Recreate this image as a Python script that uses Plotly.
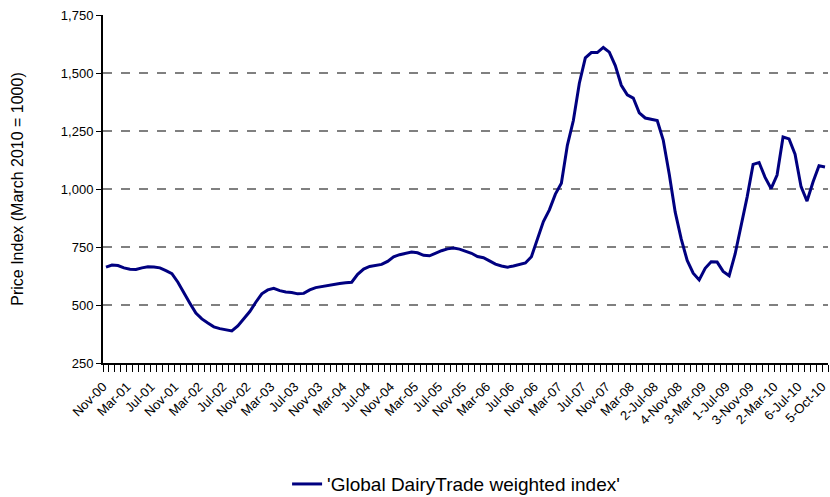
import plotly.graph_objects as go

# Global DairyTrade weighted index, monthly positions Nov-00 .. Oct-10
index_values = [
    663, 672, 670, 660, 654, 653, 660, 665, 664, 660,
    648, 635, 598, 556, 508, 465, 440, 422, 406, 398,
    394, 388, 410, 439, 472, 512, 548, 565, 572, 562,
    556, 554, 548, 550, 565, 575, 580, 584, 587, 593,
    596, 598, 632, 655, 666, 672, 675, 688, 708, 717,
    724, 728, 725, 714, 712, 724, 734, 742, 746, 741,
    732, 723, 709, 704, 690, 676, 668, 663, 668, 673,
    681, 708, 788, 860, 910, 978, 1025, 1188, 1295, 1456,
    1565, 1588, 1588, 1610, 1590, 1532, 1447, 1406, 1392, 1328,
    1306, 1300, 1295, 1211, 1065, 900, 785, 692, 637, 608,
    658, 686, 685, 645, 626, 720, 840, 965, 1106, 1114,
    1050, 1002, 1060, 1224, 1216, 1150, 1010, 948, 1030, 1100,
    1095,
]

tick_labels = [
    "Nov-00", "Mar-01", "Jul-01", "Nov-01", "Mar-02", "Jul-02", "Nov-02",
    "Mar-03", "Jul-03", "Nov-03", "Mar-04", "Jul-04", "Nov-04", "Mar-05",
    "Jul-05", "Nov-05", "Mar-06", "Jul-06", "Nov-06", "Mar-07", "Jul-07",
    "Nov-07", "Mar-08", "2-Jul-08", "4-Nov-08", "3-Mar-09", "1-Jul-09",
    "3-Nov-09", "2-Mar-10", "6-Jul-10", "5-Oct-10",
]
label_step = 4

y_ticks = [250, 500, 750, 1000, 1250, 1500, 1750]
y_tick_text = ["250", "500", "750", "1,000", "1,250", "1,500", "1,750"]

series_name = "'Global DairyTrade weighted index'"
y_title = "Price Index (March 2010 = 1000)"

x = list(range(len(index_values)))
tick_positions = [i * label_step for i in range(len(tick_labels))]

fig = go.Figure()
fig.add_trace(go.Scatter(
    x=x, y=index_values, mode="lines", name=series_name,
    line=dict(color="#000080", width=3),
    showlegend=True,
))

fig.add_annotation(
    text=y_title, xref="paper", yref="paper", x=-0.119, y=0.5,
    xanchor="center", yanchor="middle", textangle=-90, showarrow=False,
    font=dict(size=16, color="black"),
)

fig.update_layout(
    width=830, height=497,
    margin=dict(l=103, r=2, t=15, b=134, autoexpand=False),
    paper_bgcolor="white", plot_bgcolor="white",
    font=dict(family="Liberation Sans, Arial, sans-serif", color="black"),
    legend=dict(
        orientation="h", x=0.487, y=-0.348, xanchor="center", yanchor="middle",
        font=dict(size=19, color="black"), bgcolor="rgba(0,0,0,0)",
        itemwidth=30,
    ),
    xaxis=dict(
        range=[-0.5, len(index_values) - 0.5],
        automargin=False,
        tickmode="array", tickvals=tick_positions, ticktext=tick_labels,
        tickangle=-45, tickfont=dict(size=13, color="black"),
        ticklabeloverflow="allow", ticklabelshift=-3,
        ticks="outside", ticklen=9, tickcolor="rgba(0,0,0,0)",
        showgrid=False, zeroline=False,
        showline=True, linecolor="black", linewidth=2,
        minor=dict(tickmode="linear", tick0=-0.5, dtick=1, ticks="outside",
                   ticklen=7, tickcolor="black", tickwidth=1, showgrid=False),
    ),
    yaxis=dict(
        range=[250, 1750],
        automargin=False,
        tickmode="array", tickvals=y_ticks, ticktext=y_tick_text,
        tickfont=dict(size=13, color="black"),
        ticks="outside", ticklen=5, tickcolor="black", tickwidth=1,
        showgrid=True, gridcolor="#808080", gridwidth=2, griddash="dash",
        zeroline=False,
        showline=True, linecolor="black", linewidth=2,
    ),
)

fig.write_html(
    "out.html",
    config={"displayModeBar": False},
    post_script="document.body.style.margin='0';document.body.style.overflow='hidden';",
)
